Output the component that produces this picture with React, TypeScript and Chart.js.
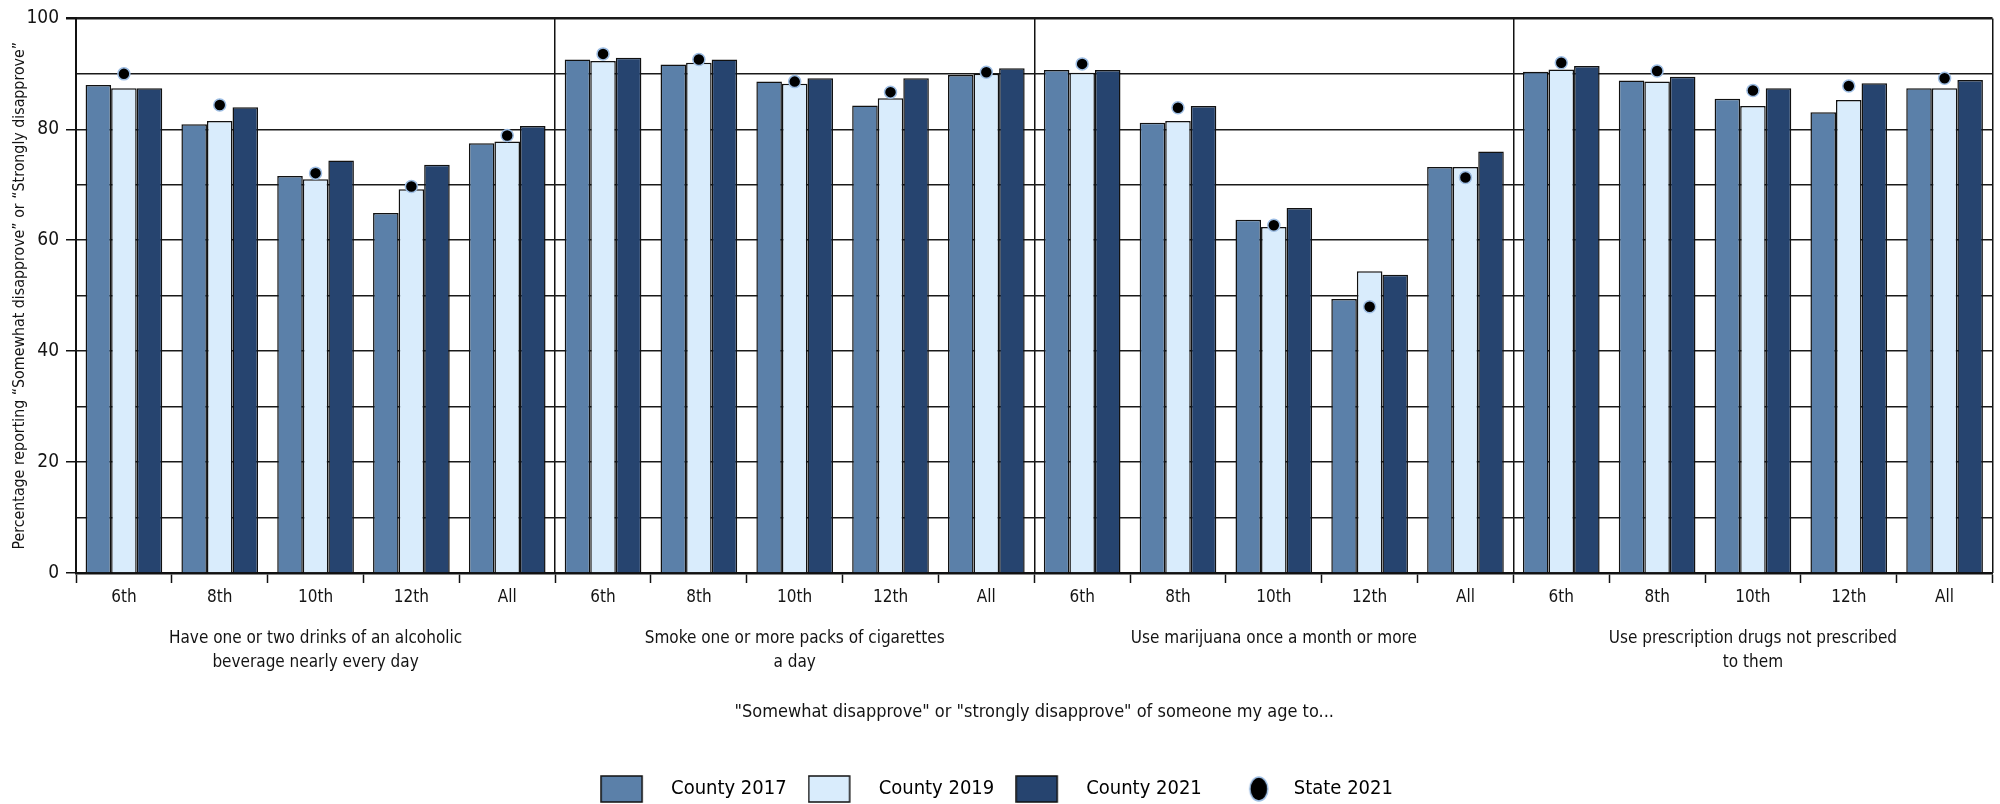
import React, { useEffect, useRef } from "react";
import { Chart, registerables } from "chart.js";

Chart.register(...registerables);

const grades = ["6th", "8th", "10th", "12th", "All"];
const behaviors = [
  ["Have one or two drinks of an alcoholic", "beverage nearly every day"],
  ["Smoke one or more packs of cigarettes", "a day"],
  ["Use marijuana once a month or more"],
  ["Use prescription drugs not prescribed", "to them"],
];
const xTitle = "\"Somewhat disapprove\" or \"strongly disapprove\" of someone my age to...";
const yTitle = "Percentage reporting \u201cSomewhat disapprove\u201d or \u201cStrongly disapprove\u201d";
const yTicks = [0, 20, 40, 60, 80, 100];

const county2017 = [88.0, 80.9, 71.6, 64.9, 77.5, 92.6, 91.7, 88.6, 84.3, 89.8, 90.7, 81.2, 63.7, 49.4, 73.2, 90.4, 88.8, 85.5, 83.1, 87.4];
const county2019 = [87.4, 81.5, 71.0, 69.2, 77.8, 92.3, 92.0, 88.2, 85.6, 90.0, 90.2, 81.5, 62.4, 54.4, 73.2, 90.8, 88.6, 84.2, 85.3, 87.4];
const county2021 = [87.4, 84.0, 74.4, 73.6, 80.6, 92.9, 92.6, 89.2, 89.2, 91.0, 90.7, 84.2, 65.8, 53.8, 76.0, 91.4, 89.5, 87.4, 88.3, 88.9];
const state2021 = [90.0, 84.4, 72.1, 69.7, 78.9, 93.6, 92.6, 88.6, 86.7, 90.3, 91.8, 83.9, 62.7, 48.0, 71.3, 92.0, 90.5, 87.0, 87.8, 89.2];

const seriesNames = ["County 2017", "County 2019", "County 2021", "State 2021"];
const colors = ["#5b80a9", "#d9ecfc", "#26446f"];
const FONT = '"Liberation Sans Narrow", "DejaVu Sans Condensed", "Arial Narrow", sans-serif';
const INK = "#141414";
const LEG_W = 61;

function makeBoxImg(color: string) {
  const c = document.createElement("canvas");
  c.width = LEG_W;
  c.height = 28;
  const g = c.getContext("2d")!;
  g.fillStyle = color;
  g.fillRect(1, 1, 41, 26);
  g.strokeStyle = "#111";
  g.lineWidth = 1.5;
  g.strokeRect(1, 1, 41, 26);
  return c;
}
function makeDotImg() {
  const c = document.createElement("canvas");
  c.width = LEG_W;
  c.height = 28;
  const g = c.getContext("2d")!;
  g.beginPath();
  g.ellipse(36, 14, 9, 12, 0, 0, Math.PI * 2);
  g.fillStyle = "#000";
  g.fill();
  g.strokeStyle = "#9dbde3";
  g.lineWidth = 1.5;
  g.stroke();
  return c;
}

export default function App() {
  const ref = useRef<HTMLCanvasElement>(null);
  useEffect(() => {
    if (!ref.current) return;
    Chart.defaults.font.family = FONT;
    Chart.defaults.color = INK;
    const imgs = [makeBoxImg(colors[0]), makeBoxImg(colors[1]), makeBoxImg(colors[2]), makeDotImg()];
    const labels = behaviors.flatMap(() => grades);
    const barSets = [county2017, county2019, county2021].map((d, i) => ({
      type: "bar" as const,
      label: seriesNames[i],
      data: d,
      backgroundColor: colors[i],
      borderColor: "#111",
      borderWidth: 1.5,
      categoryPercentage: 0.8,
      barPercentage: 1,
      order: 1,
    }));
    const chart = new Chart(ref.current, {
      type: "bar",
      data: {
        labels,
        datasets: [
          ...barSets,
          {
            type: "line" as const,
            label: seriesNames[3],
            data: state2021,
            showLine: false,
            pointRadius: 6,
            pointBackgroundColor: "#000",
            pointBorderColor: "#9dbde3",
            pointBorderWidth: 1.5,
            order: 0,
          } as any,
        ],
      },
      options: {
        animation: false,
        responsive: false,
        devicePixelRatio: 1,
        layout: { padding: { top: 17, right: 7, left: 0, bottom: -5 } },
        plugins: {
          tooltip: { enabled: false },
          legend: {
            position: "bottom",
            labels: {
              usePointStyle: true,
              pointStyleWidth: LEG_W,
              boxHeight: 20,
              padding: 21,
              font: { size: 20 },
              color: INK,
              generateLabels: (ch: any) =>
                ch.data.datasets.map((ds: any, i: number) => ({
                  text: ds.label,
                  pointStyle: imgs[i],
                  fillStyle: "#000",
                  strokeStyle: "transparent",
                  lineWidth: 0,
                  hidden: false,
                  datasetIndex: i,
                })),
            },
          },
        },
        scales: {
          x: {
            type: "category",
            position: "bottom",
            offset: true,
            grid: {
              display: true,
              offset: true,
              drawOnChartArea: false,
              drawTicks: true,
              tickLength: 10,
              tickColor: "#111",
              tickWidth: 1.5,
              color: "#111",
            },
            border: { display: true, color: "#111", width: 2.5 },
            ticks: { font: { size: 17 }, padding: 4, color: INK, autoSkip: false, maxRotation: 0 },
            afterFit: (s: any) => {
              s.height = 47;
            },
          },
          x2: {
            type: "category",
            position: "bottom",
            labels: behaviors as any,
            offset: true,
            grid: {
              display: true,
              offset: true,
              drawOnChartArea: true,
              drawTicks: false,
              color: "#111",
              lineWidth: 1.5,
            },
            border: { display: false },
            ticks: {
              font: { size: 17, lineHeight: 1.41 },
              padding: 7,
              color: INK,
              autoSkip: false,
              maxRotation: 0,
            },
            title: {
              display: true,
              text: xTitle,
              font: { size: 18 },
              color: INK,
              padding: { top: 0, bottom: 35 },
            },
            afterFit: (s: any) => {
              s.height = 138;
            },
          },
          y: {
            min: 0,
            max: 100,
            position: "left",
            grid: {
              color: "#1a1a1a",
              lineWidth: (c: any) => (c.tick && c.tick.value === 100 ? 2.5 : 1.5),
              tickLength: 10,
              tickColor: (c: any) => (c.tick && yTicks.includes(c.tick.value) ? "#111" : "rgba(0,0,0,0)"),
            },
            border: { display: true, color: "#111", width: 2 },
            ticks: {
              stepSize: 10,
              autoSkip: false,
              padding: 7,
              font: { size: 19 },
              color: INK,
              callback: (v: any) => (yTicks.includes(Number(v)) ? String(v) : ""),
            },
            title: {
              display: true,
              text: yTitle,
              font: { size: 15.8 },
              color: INK,
              padding: { top: 10, bottom: 0 },
            },
            afterFit: (s: any) => {
              s.width = 76;
            },
          },
        },
      } as any,
    });
    return () => chart.destroy();
  }, []);
  return (
    <div style={{ position: "absolute", left: 0, top: 0, width: 2000, height: 804, background: "#fff" }}>
      <canvas ref={ref} width={2000} height={804} style={{ display: "block", width: 2000, height: 804 }} />
    </div>
  );
}
